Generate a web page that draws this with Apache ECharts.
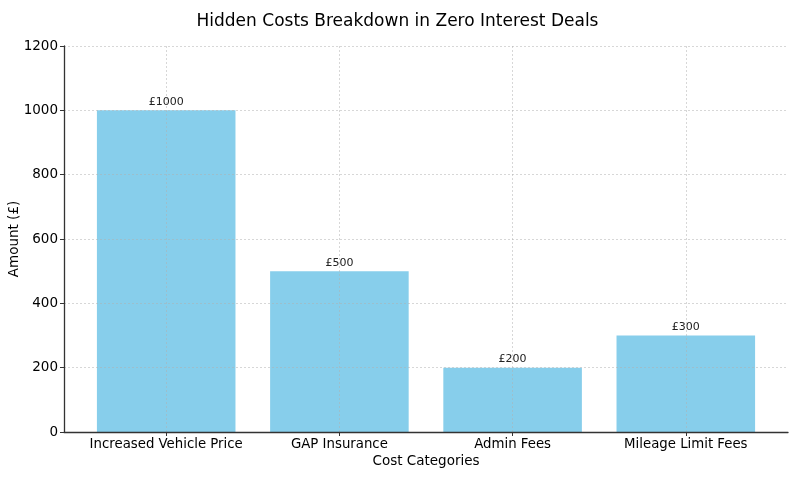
<!DOCTYPE html>
<html><head><meta charset="utf-8">
<script src="https://cdn.jsdelivr.net/npm/echarts@6/dist/echarts.min.js"></script>
<style>html,body{margin:0;padding:0;background:#fff}#c{width:795px;height:477px}</style>
</head><body><div id="c"></div>
<script>
const categories = ["Increased Vehicle Price", "GAP Insurance", "Admin Fees", "Mileage Limit Fees"];
const amounts = [1000, 500, 200, 300];
const yTicks = [0, 200, 400, 600, 800, 1000, 1200];
const FONT = "DejaVu Sans";
const chart = echarts.init(document.getElementById('c'));
const positions = categories.map((_, i) => i);
const gridLine = { show: true, lineStyle: { type: [2, 2], color: 'rgba(176,176,176,0.5)', width: 1 } };
const xMin = -0.59, xMax = categories.length - 1 + 0.59;
chart.setOption({
  animation: false,
  title: { text: "Hidden Costs Breakdown in Zero Interest Deals", left: 'center', top: 8,
    textStyle: { fontFamily: FONT, fontSize: 17, fontWeight: 'normal', color: '#000' } },
  grid: [
    { left: 64, right: 7, top: 46, bottom: 45, outerBoundsMode: 'none', containLabel: false },
    { left: 64, right: 7, top: 46, bottom: 45, outerBoundsMode: 'none', containLabel: false, z: 10 }
  ],
  xAxis: [{
    type: 'value', min: xMin, max: xMax, gridIndex: 0, z: 12,
    name: "Cost Categories", nameLocation: 'middle', nameGap: 22, nameMoveOverlap: false,
    nameTextStyle: { fontFamily: FONT, fontSize: 13.5, color: '#000' },
    axisLine: { show: true, onZero: false, lineStyle: { color: '#333', width: 1.3 } },
    axisTick: { show: true, customValues: positions, length: 4, lineStyle: { color: '#333', width: 1 } },
    axisLabel: { customValues: positions, formatter: v => categories[Math.round(v)] || '',
      fontFamily: FONT, fontSize: 13.3, color: '#000', margin: 6 },
    splitLine: { show: false }
  }, {
    type: 'value', min: xMin, max: xMax, gridIndex: 1, z: 10,
    axisLine: { show: false }, axisTick: { show: false, customValues: positions },
    axisLabel: { show: false, customValues: positions },
    splitLine: gridLine
  }],
  yAxis: [{
    type: 'value', min: 0, max: 1200, interval: 200, gridIndex: 0, z: 12,
    name: "Amount (£)", nameLocation: 'middle', nameGap: 43, nameMoveOverlap: false,
    nameTextStyle: { fontFamily: FONT, fontSize: 13.5, color: '#000' },
    axisLine: { show: true, onZero: false, lineStyle: { color: '#333', width: 1.3 } },
    axisTick: { show: true, length: 4, lineStyle: { color: '#333', width: 1 } },
    axisLabel: { fontFamily: FONT, fontSize: 13.5, color: '#000', margin: 6,
      formatter: v => yTicks.includes(v) ? String(v) : '' },
    splitLine: { show: false }
  }, {
    type: 'value', min: 0, max: 1200, interval: 200, gridIndex: 1, z: 10,
    axisLine: { show: false }, axisTick: { show: false }, axisLabel: { show: false },
    splitLine: gridLine
  }],
  series: [{
    type: 'bar', barWidth: '80%', xAxisIndex: 0, yAxisIndex: 0,
    data: amounts.map((v, i) => [i, v]),
    itemStyle: { color: '#87CEEB' },
    label: { show: true, position: 'top', distance: 3, formatter: p => '£' + p.value[1],
      fontFamily: FONT, fontSize: 11, color: '#222' }
  }]
});
</script></body></html>
